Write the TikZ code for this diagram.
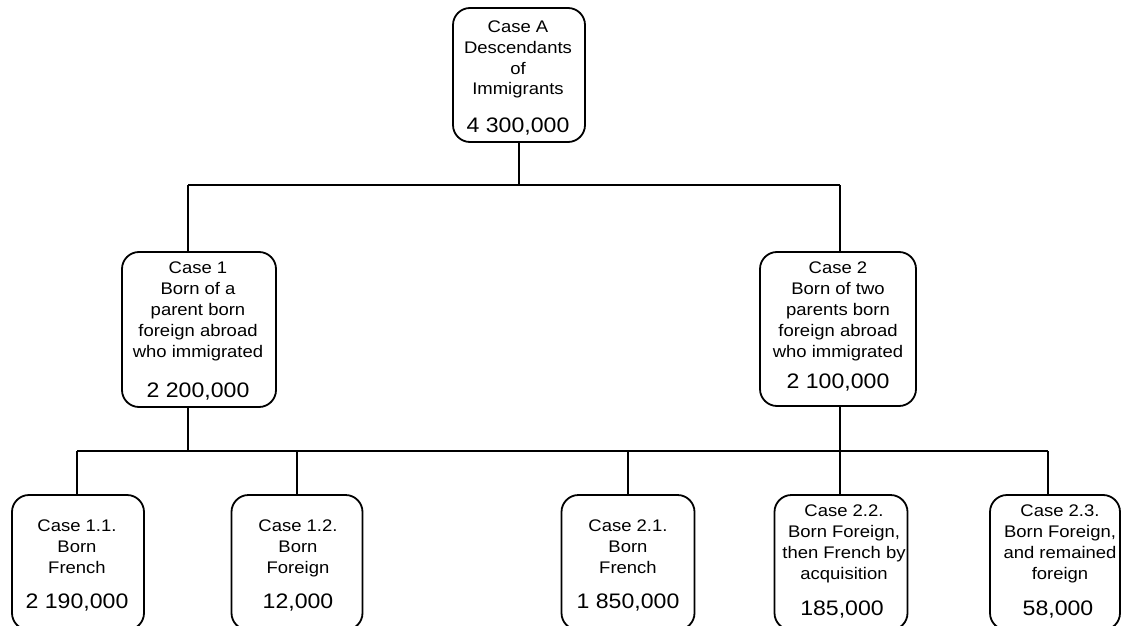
\documentclass[tikz,border=0pt]{standalone}
\usepackage{fontspec}
\setmainfont{Liberation Sans}[FakeStretch=1.1]
\begin{document}
\begin{tikzpicture}[x=1pt,y=-1pt,
  casebox/.style={draw, line width=1.8pt, rounded corners=17pt, inner sep=0pt},
  wire/.style={draw, line width=1.8pt},
  % anchor=base sits on the baseline of the last line
  label/.style={anchor=base, align=center, inner sep=0pt,
    font=\fontsize{16.8}{20.8}\selectfont},
  figure/.style={anchor=base, inner sep=0pt, font=\fontsize{21}{24}\selectfont}]
\useasboundingbox (0,0) rectangle (1122,626);
\clip (0,0) rectangle (1122,626);

% boxes
\node[casebox, minimum width=132pt, minimum height=134pt] (a) at (519,75) {};
\node[casebox, minimum width=154pt, minimum height=155pt] (c1) at (199,329.5) {};
\node[casebox, minimum width=156pt, minimum height=154pt] (c2) at (838,329) {};
\node[casebox, minimum width=132pt, minimum height=135pt] (b11) at (78,562.5) {};
\node[casebox, minimum width=131pt, minimum height=135pt] (b12) at (297,562.5) {};
\node[casebox, minimum width=133pt, minimum height=135pt] (b21) at (628,562.5) {};
\node[casebox, minimum width=133pt, minimum height=135pt] (b22) at (841,562.5) {};
\node[casebox, minimum width=130pt, minimum height=135pt] (b23) at (1055,562.5) {};

% texts
\node[label] (ta) at (518,95) {Case A\\Descendants\\of\\Immigrants};
\node[figure] (na) at (518,132) {4 300,000};
\node[label] (tc1) at (198,357) {Case 1\\Born of a\\parent born\\foreign abroad\\who immigrated};
\node[figure] (nc1) at (198,397) {2 200,000};
\node[label] (tc2) at (838,357) {Case 2\\Born of two\\parents born\\foreign abroad\\who immigrated};
\node[figure] (nc2) at (838,388) {2 100,000};
\node[label] (tb11) at (77,573) {Case 1.1.\\Born\\French};
\node[figure] (nb11) at (77,608) {2 190,000};
\node[label] (tb12) at (298,573) {Case 1.2.\\Born\\Foreign};
\node[figure] (nb12) at (298,608) {12,000};
\node[label] (tb21) at (628,573) {Case 2.1.\\Born\\French};
\node[figure] (nb21) at (628,608) {1 850,000};
\node[label] (tb22) at (844,579) {Case 2.2.\\Born Foreign,\\then French by\\acquisition};
\node[figure] (nb22) at (842,615) {185,000};
\node[label] (tb23) at (1060,579) {Case 2.3.\\Born Foreign,\\and remained\\foreign};
\node[figure] (nb23) at (1058,615) {58,000};

% junctions of the two buses
\coordinate (j1) at (188,185);
\coordinate (j2) at (840,185);
\coordinate (k0) at (77,451);
\coordinate (k5) at (1048,451);

% upper tier
\draw[wire] (a.south) -- (a.south |- j1);
\draw[wire] (j1) -- (j2);
\draw[wire] (j1) -- (j1 |- c1.north);
\draw[wire] (j2) -- (j2 |- c2.north);

% lower tier
\draw[wire] (j1 |- c1.south) -- (j1 |- k0);
\draw[wire] (j2 |- c2.south) -- (j2 |- b22.north);
\draw[wire] (k0) -- (k5);
\draw[wire] (k0) -- (k0 |- b11.north);
\draw[wire] (b12.north |- k0) -- (b12.north);
\draw[wire] (b21.north |- k0) -- (b21.north);
\draw[wire] (k5) -- (k5 |- b23.north);
\end{tikzpicture}
\end{document}
